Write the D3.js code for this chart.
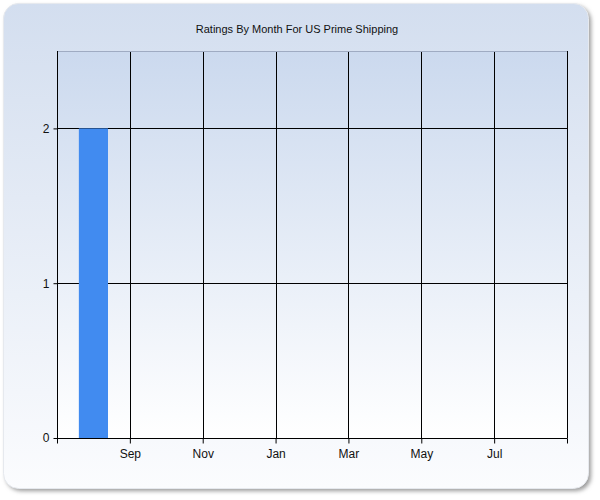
<!DOCTYPE html>
<html>
<head>
<meta charset="utf-8">
<script src="https://cdn.jsdelivr.net/npm/d3@7"></script>
<style>
	body { margin: 0; background: #fff; }
	svg { display: block; font-family: 'Liberation Sans', Arial, sans-serif; }
</style>
</head>
<body>
<div id="chart"></div>
<script>
// data
var chartTitle = 'Ratings By Month For US Prime Shipping';
var monthNames = ['Jul', 'Aug', 'Sep', 'Oct', 'Nov', 'Dec', 'Jan', 'Feb', 'Mar', 'Apr', 'May', 'Jun', 'Jul', 'Aug', 'Sep'];
var barMonth = [1];        // index into monthNames (Aug)
var barValue = [2];
var yTickValues = [0, 1, 2];
var xGridMonths = [0, 2, 4, 6, 8, 10, 12, 14];
var xLabelMonths = [2, 4, 6, 8, 10, 12];

var W = 600, H = 500;
var plot = {left: 57, right: 567, top: 51, bottom: 438};

var svg = d3.select('#chart').append('svg')
	.attr('width', W)
	.attr('height', H);

var defs = svg.append('defs');

var panelGrad = defs.append('linearGradient')
	.attr('id', 'panelGrad')
	.attr('x1', 0).attr('y1', 0).attr('x2', 0).attr('y2', 1);
panelGrad.append('stop').attr('offset', '0%').attr('stop-color', '#d3deef');
panelGrad.append('stop').attr('offset', '100%').attr('stop-color', '#fbfcfe');

var plotGrad = defs.append('linearGradient')
	.attr('id', 'plotGrad')
	.attr('x1', 0).attr('y1', 0).attr('x2', 0).attr('y2', 1);
plotGrad.append('stop').attr('offset', '0%').attr('stop-color', '#cbd9ee');
plotGrad.append('stop').attr('offset', '100%').attr('stop-color', '#ffffff');

var blur = defs.append('filter')
	.attr('id', 'shadowBlur')
	.attr('x', '-5%').attr('y', '-5%').attr('width', '110%').attr('height', '110%');
blur.append('feGaussianBlur').attr('stdDeviation', 2);

// outer panel with shadow
svg.append('rect')
	.attr('x', 6).attr('y', 6)
	.attr('width', 585).attr('height', 485)
	.attr('rx', 15)
	.attr('fill', '#9a9a9a')
	.attr('filter', 'url(#shadowBlur)');

svg.append('rect')
	.attr('x', 3.5).attr('y', 3.5)
	.attr('width', 585).attr('height', 485)
	.attr('rx', 15)
	.attr('fill', 'url(#panelGrad)')
	.attr('stroke', '#e6e9ee')
	.attr('stroke-width', 1);

svg.append('text')
	.attr('x', 297)
	.attr('y', 33)
	.attr('text-anchor', 'middle')
	.attr('font-size', 11)
	.attr('fill', '#111')
	.text(chartTitle);

// scales
var x = d3.scaleLinear()
	.domain([0, monthNames.length - 1])
	.range([plot.left, plot.right]);

var y = d3.scaleLinear()
	.domain([0, 2.5])
	.range([plot.bottom, plot.top]);

var monthW = x(1) - x(0);

svg.append('rect')
	.attr('x', plot.left).attr('y', plot.top)
	.attr('width', plot.right - plot.left)
	.attr('height', plot.bottom - plot.top)
	.attr('fill', 'url(#plotGrad)');

// grid
svg.append('g')
	.selectAll('line')
	.data(xGridMonths.slice(1))
	.enter()
	.append('line')
	.attr('x1', function(d) { return Math.round(x(d)) + 0.5; })
	.attr('x2', function(d) { return Math.round(x(d)) + 0.5; })
	.attr('y1', plot.top)
	.attr('y2', plot.bottom)
	.attr('stroke', '#000');

svg.append('g')
	.selectAll('line')
	.data(yTickValues.slice(1))
	.enter()
	.append('line')
	.attr('x1', plot.left)
	.attr('x2', plot.right)
	.attr('y1', function(d) { return Math.round(y(d)) + 0.5; })
	.attr('y2', function(d) { return Math.round(y(d)) + 0.5; })
	.attr('stroke', '#000');

// top border (light)
svg.append('line')
	.attr('x1', plot.left).attr('x2', plot.right + 1)
	.attr('y1', plot.top + 0.5).attr('y2', plot.top + 0.5)
	.attr('stroke', '#9fabc2');

// bars
svg.append('g')
	.selectAll('rect')
	.data(barMonth)
	.enter()
	.append('rect')
	.attr('x', function(d) { return x(d) - monthW * 0.4; })
	.attr('width', monthW * 0.8)
	.attr('y', function(d, i) { return y(barValue[i]); })
	.attr('height', function(d, i) { return y(0) - y(barValue[i]); })
	.attr('fill', '#418bf0');

// axes
var yAxis = d3.axisLeft(y)
	.tickValues(yTickValues)
	.tickFormat(d3.format('d'))
	.tickSize(4)
	.tickPadding(4);

var xAxis = d3.axisBottom(x)
	.tickValues(xGridMonths)
	.tickFormat(function(d) { return xLabelMonths.indexOf(d) >= 0 ? monthNames[d] : ''; })
	.tickSize(5)
	.tickPadding(6);

var gy = svg.append('g')
	.attr('transform', 'translate(' + (plot.left + 0.5) + ',0)')
	.call(yAxis);

var gx = svg.append('g')
	.attr('transform', 'translate(0,' + (plot.bottom + 0.5) + ')')
	.call(xAxis);

[gx, gy].forEach(function(g) {
	g.select('.domain').attr('stroke', '#000');
	g.selectAll('.tick line').attr('stroke', '#000');
	g.selectAll('.tick text')
		.attr('font-family', "'Liberation Sans', Arial, sans-serif")
		.attr('font-size', 12)
		.attr('fill', '#111');
});
gy.select('.domain').attr('d', 'M0,' + plot.top + 'V' + plot.bottom);
gx.select('.domain').attr('d', 'M' + plot.left + ',0H' + (plot.right + 0.5));

// right border
svg.append('line')
	.attr('x1', plot.right + 0.5).attr('x2', plot.right + 0.5)
	.attr('y1', plot.top).attr('y2', plot.bottom)
	.attr('stroke', '#000');
</script>
</body>
</html>
